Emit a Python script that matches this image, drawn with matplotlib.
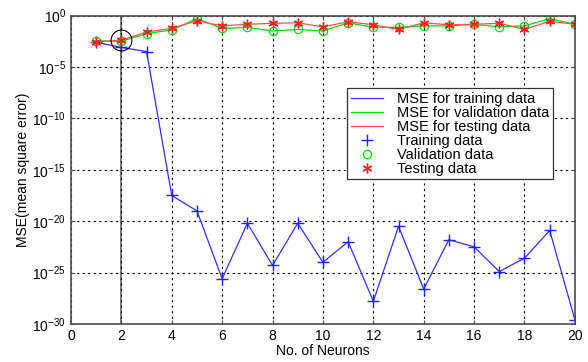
import matplotlib.pyplot as plt
import numpy as np

neurons = np.arange(1, 21)

# log10 of MSE
train_log = [-2.6, -3.1, -3.5, -17.5, -19.0, -25.6, -20.2, -24.3, -20.2, -24.0,
             -22.0, -27.8, -20.5, -26.6, -21.8, -22.5, -24.9, -23.6, -20.9, -29.6]
valid_log = [-2.45, -2.5, -1.75, -1.4, -0.3, -1.25, -1.15, -1.5, -1.35, -1.5,
             -0.7, -1.15, -1.15, -1.0, -1.0, -0.85, -1.1, -1.0, -0.3, -0.85]
test_log = [-2.55, -2.4, -1.6, -1.25, -0.5, -1.0, -0.85, -0.75, -0.7, -1.1,
            -0.6, -0.9, -1.35, -0.7, -0.9, -0.85, -0.75, -1.35, -0.55, -0.85]

train = 10.0 ** np.array(train_log)
valid = 10.0 ** np.array(valid_log)
test = 10.0 ** np.array(test_log)

plt.rcParams['font.family'] = ['Liberation Sans', 'DejaVu Sans']

fig = plt.figure(figsize=(5.88, 3.62), dpi=100)
ax = fig.add_axes([0.1207, 0.105, 0.857, 0.852])

ax.plot(neurons, train, color='#3030ff', lw=0.9, label='MSE for training data')
ax.plot(neurons, valid, color='#00e000', lw=0.9, label='MSE for validation data')
ax.plot(neurons, test, color='#ff5050', lw=0.9, label='MSE for testing data')
ax.plot(neurons, train, ls='none', marker='+', ms=8, mew=1, color='#2020ff', label='Training data')
ax.plot(neurons, valid, ls='none', marker='o', ms=6, mfc='none', mew=0.9, color='#00e000', label='Validation data')
ax.plot(neurons, test, ls='none', marker=(6, 2, 0), ms=7, mew=1, color='#ff2020', label='Testing data')

# highlight of the chosen network size
ax.axvline(2, color='0.4', lw=1.2, zorder=1.5)
ax.plot([2], [10 ** -2.4], marker='o', ms=15, mfc='none', mec='black', mew=0.8)

ax.set_yscale('log')
ax.set_xlim(0, 20)
ax.set_ylim(1e-30, 1)
ax.set_xticks(np.arange(0, 21, 2))
ax.set_yticks([10.0 ** k for k in range(-30, 1, 5)])
ax.minorticks_off()
ax.tick_params(direction='in', labelsize=10, top=True, right=True, length=3, color='0.3')
ax.grid(True, ls=(0, (2, 3)), color='black', lw=0.8)
for sp in ax.spines.values():
    sp.set_color('0.3')
    sp.set_linewidth(1.2)

ax.set_xlabel('No. of Neurons', fontsize=10, labelpad=1)
ax.set_ylabel('MSE(mean square error)', fontsize=10, labelpad=2)

leg = ax.legend(loc='upper left', bbox_to_anchor=(0.548, 0.765), fontsize=10.5,
                frameon=True, fancybox=False, edgecolor='0.2', framealpha=1,
                handlelength=2.2, handletextpad=1.0, borderpad=0.25,
                labelspacing=0.0, borderaxespad=0)
leg.get_frame().set_linewidth(0.9)

fig.savefig('out.png', dpi=100)
